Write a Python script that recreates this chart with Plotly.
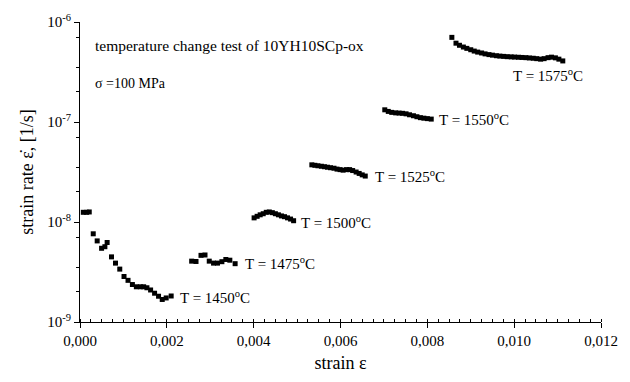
import plotly.graph_objects as go

# ---- data (strain, strain rate [1/s]) ----
strain_1450 = [0.000076, 0.000153, 0.000213, 0.000305, 0.000396, 0.000497, 0.000573, 0.000625,
               0.000726, 0.000818, 0.000916, 0.001014, 0.001106, 0.001207, 0.001298, 0.001390,
               0.001466, 0.001541, 0.001626, 0.001718, 0.001809, 0.001894, 0.001985, 0.002100]
rate_1450 = [1.25e-8, 1.25e-8, 1.26e-8, 7.62e-9, 6.47e-9, 5.46e-9, 5.66e-9, 6.24e-9,
             4.48e-9, 3.88e-9, 3.38e-9, 2.85e-9, 2.61e-9, 2.37e-9, 2.25e-9, 2.25e-9,
             2.25e-9, 2.20e-9, 2.09e-9, 1.94e-9, 1.81e-9, 1.68e-9, 1.74e-9, 1.82e-9]

strain_1475 = [0.002572, 0.002672, 0.002787, 0.002879, 0.002977, 0.003076, 0.003167,
               0.003268, 0.003359, 0.003451, 0.003573]
rate_1475 = [4.06e-9, 4.03e-9, 4.64e-9, 4.68e-9, 4.06e-9, 3.88e-9, 3.88e-9,
             4.01e-9, 4.22e-9, 4.15e-9, 3.83e-9]

strain_1500 = [0.00401, 0.00408, 0.00415, 0.00422, 0.00429, 0.00436, 0.00443, 0.00450,
               0.00457, 0.00464, 0.00471, 0.00478, 0.00485, 0.00492]
rate_1500 = [1.10e-8, 1.14e-8, 1.18e-8, 1.21e-8, 1.25e-8, 1.26e-8, 1.24e-8, 1.21e-8,
             1.18e-8, 1.15e-8, 1.13e-8, 1.10e-8, 1.07e-8, 1.03e-8]

strain_1525 = [0.00534, 0.00541, 0.00548, 0.00556, 0.00563, 0.00570, 0.00577, 0.00585,
               0.00592, 0.00599, 0.00606, 0.00614, 0.00621, 0.00628, 0.00636, 0.00643,
               0.00650, 0.00657]
rate_1525 = [3.73e-8, 3.69e-8, 3.65e-8, 3.61e-8, 3.57e-8, 3.53e-8, 3.49e-8, 3.45e-8,
             3.38e-8, 3.34e-8, 3.30e-8, 3.34e-8, 3.34e-8, 3.27e-8, 3.16e-8, 3.06e-8,
             2.96e-8, 2.88e-8]

strain_1550 = [0.00702, 0.00710, 0.00718, 0.00727, 0.00735, 0.00743, 0.00751, 0.00759,
               0.00768, 0.00776, 0.00784, 0.00792, 0.00800, 0.00809]
rate_1550 = [1.324e-7, 1.276e-7, 1.248e-7, 1.234e-7, 1.228e-7, 1.221e-7, 1.207e-7, 1.181e-7,
             1.155e-7, 1.129e-7, 1.105e-7, 1.092e-7, 1.081e-7, 1.069e-7]

strain_1575 = [0.008565, 0.00866, 0.00874, 0.00883, 0.00891, 0.00900, 0.00908, 0.00916,
               0.00925, 0.00933, 0.00942, 0.00950, 0.00959, 0.00967, 0.00976, 0.00984,
               0.00993, 0.01001, 0.01010, 0.01018, 0.01027, 0.01035, 0.01044, 0.01052,
               0.01061, 0.01069, 0.01078, 0.01086, 0.01095, 0.01103, 0.01112]
rate_1575 = [7.02e-7, 6.14e-7, 5.85e-7, 5.62e-7, 5.45e-7, 5.28e-7, 5.12e-7, 5.00e-7,
             4.90e-7, 4.80e-7, 4.72e-7, 4.66e-7, 4.60e-7, 4.56e-7, 4.53e-7, 4.50e-7,
             4.48e-7, 4.46e-7, 4.44e-7, 4.42e-7, 4.40e-7, 4.37e-7, 4.34e-7, 4.30e-7,
             4.25e-7, 4.30e-7, 4.40e-7, 4.45e-7, 4.38e-7, 4.25e-7, 4.08e-7]

series = [
    (strain_1450, rate_1450), (strain_1475, rate_1475), (strain_1500, rate_1500),
    (strain_1525, rate_1525), (strain_1550, rate_1550), (strain_1575, rate_1575),
]

# temperature labels: text, anchor strain, anchor log10(rate)
label_text = ["T = 1450<sup>o</sup>C", "T = 1475<sup>o</sup>C", "T = 1500<sup>o</sup>C",
              "T = 1525<sup>o</sup>C", "T = 1550<sup>o</sup>C", "T = 1575<sup>o</sup>C"]
label_x = [0.00225, 0.00375, 0.00505, 0.00675, 0.00822, 0.00992]
label_logy = [-8.75, -8.41, -8.0, -7.54, -6.97, -6.53]

x_ticks = [0.000, 0.002, 0.004, 0.006, 0.008, 0.010, 0.012]
y_ticks = [1e-9, 1e-8, 1e-7, 1e-6]
y_tick_text = ["10<sup>-9</sup>", "10<sup>-8</sup>", "10<sup>-7</sup>", "10<sup>-6</sup>"]
y_minor = [m * d for d in (1e-9, 1e-8, 1e-7) for m in (2, 3.5, 7)]

FONT = "Liberation Serif"

fig = go.Figure()
for sx, sy in series:
    fig.add_trace(go.Scatter(
        x=sx, y=sy, mode="markers",
        marker=dict(symbol="square", size=5, color="black", line=dict(width=0)),
        showlegend=False, hoverinfo="skip"))

annotations = []
for t, lx, ly in zip(label_text, label_x, label_logy):
    annotations.append(dict(x=lx, y=ly, xref="x", yref="y", text=t, showarrow=False,
                            xanchor="left", yanchor="middle",
                            font=dict(family=FONT, size=15, color="black")))
annotations.append(dict(x=0.025, y=0.923, xref="paper", yref="paper",
                        text="temperature change test of 10YH10SCp-ox", showarrow=False,
                        xanchor="left", yanchor="middle",
                        font=dict(family=FONT, size=15.5, color="black")))
annotations.append(dict(x=0.025, y=0.795, xref="paper", yref="paper",
                        text="σ =100 MPa", showarrow=False,
                        xanchor="left", yanchor="middle",
                        font=dict(family=FONT, size=14, color="black")))

fig.update_layout(
    width=630, height=382,
    margin=dict(l=80, r=26, t=18, b=52),
    paper_bgcolor="white", plot_bgcolor="white",
    separators=",.",
    font=dict(family=FONT, size=15, color="black"),
    annotations=annotations,
)
fig.update_xaxes(
    range=[0, 0.012], tickvals=x_ticks, tickformat=".3f",
    showline=True, linecolor="black", linewidth=1, mirror=False,
    ticks="outside", ticklen=5, tickcolor="black", showgrid=False, zeroline=False,
    minor=dict(dtick=0.00025, tick0=0, ticks="inside", ticklen=3, tickcolor="black"),
    title=dict(text="strain ε", font=dict(family=FONT, size=18), standoff=8),
    tickfont=dict(family=FONT, size=15),
)
fig.update_yaxes(
    type="log", range=[-9, -6], tickvals=y_ticks, ticktext=y_tick_text,
    showline=True, linecolor="black", linewidth=1, mirror=False,
    ticks="outside", ticklen=5, tickcolor="black", showgrid=False, zeroline=False,
    minor=dict(tickmode="array", tickvals=y_minor, ticks="outside", ticklen=3, tickcolor="black"),
    title=dict(text="strain rate ε̇, [1/s]", font=dict(family=FONT, size=18), standoff=8),
    tickfont=dict(family=FONT, size=15),
)

fig.write_html("out.html")
